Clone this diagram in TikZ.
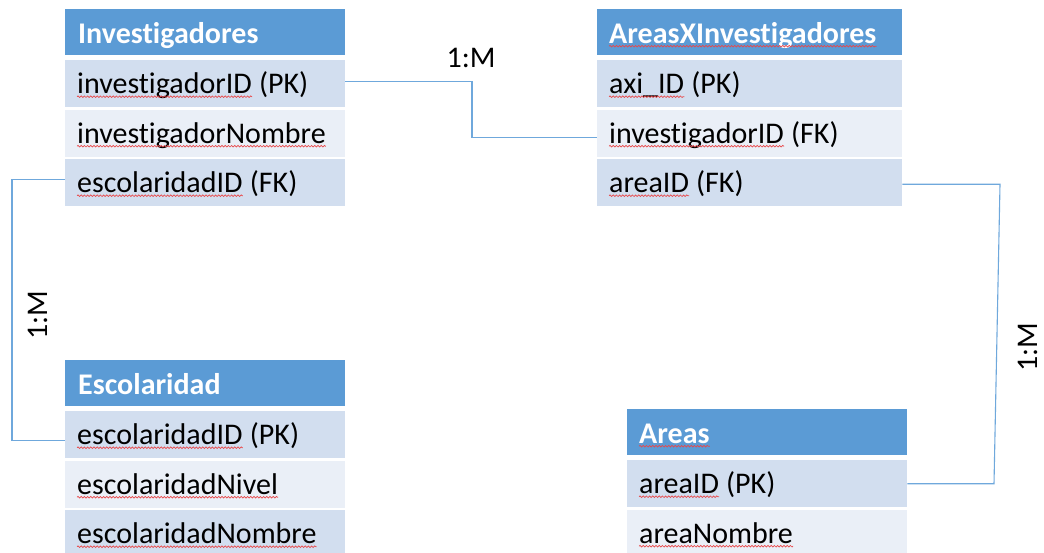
\documentclass[tikz,border=0pt]{standalone}
\usepackage{fontspec}
\setmainfont[Ligatures={NoCommon}]{Carlito}
\usetikzlibrary{decorations.pathmorphing}
\definecolor{hdrblue}{HTML}{5B9BD5}
\definecolor{bandA}{HTML}{D2DEEF}
\definecolor{bandB}{HTML}{EAEFF7}
\definecolor{linkblue}{HTML}{6FA8DC}
\definecolor{spellred}{HTML}{E8484A}
\begin{document}
\begin{tikzpicture}[x=1pt,y=-1pt,
  hdrcell/.style={fill=hdrblue, anchor=north west, inner sep=0, minimum height=46pt},
  cellA/.style={fill=bandA, anchor=north west, inner sep=0, minimum height=47pt},
  cellB/.style={fill=bandB, anchor=north west, inner sep=0, minimum height=47pt},
  hdrtxt/.style={anchor=base west, inner sep=0, text=white, font=\fontsize{30}{36}\selectfont\bfseries},
  celltxt/.style={anchor=base west, inner sep=0, font=\fontsize{30}{36}\selectfont},
  spell/.style={draw=spellred, line width=0.7pt, decorate, decoration={snake, amplitude=0.8pt, segment length=3.2pt}},
  link/.style={draw=linkblue, line width=1.1pt},
  card/.style={inner sep=0, font=\fontsize{30}{36}\selectfont}
]
\useasboundingbox (0,0) rectangle (1044,552);
\clip (0,0) rectangle (1044,552);
\fill[white] (0,0) rectangle (1044,552);

% ---- Investigadores
\node[hdrcell, minimum width=280pt] (invH) at (65,9) {};
\node[cellA, minimum width=280pt] (inv1) at (65,60) {};
\node[cellB, minimum width=280pt] (inv2) at (65,109.5) {};
\node[cellA, minimum width=280pt] (inv3) at (65,159) {};
\node[hdrtxt] (invHt) at ([xshift=13pt,yshift=-11pt]invH.west) {Investigadores};
\node[celltxt] (inv1t) at ([xshift=12pt,yshift=-10pt]inv1.west) {investigadorID};
\node[celltxt] (inv1s) at (inv1t.base east) {\ (PK)};
\node[celltxt] (inv2t) at ([xshift=12pt,yshift=-10pt]inv2.west) {investigadorNombre};
\node[celltxt] (inv3t) at ([xshift=12pt,yshift=-10pt]inv3.west) {escolaridadID};
\node[celltxt] (inv3s) at (inv3t.base east) {\ (FK)};

% ---- AreasXInvestigadores
\node[hdrcell, minimum width=305pt] (axH) at (597,9) {};
\node[cellA, minimum width=305pt] (ax1) at (597,60) {};
\node[cellB, minimum width=305pt] (ax2) at (597,109.5) {};
\node[cellA, minimum width=305pt] (ax3) at (597,159) {};
\node[hdrtxt] (axHt) at ([xshift=12pt,yshift=-11pt]axH.west) {AreasXInvestigadores};
\node[celltxt] (ax1t) at ([xshift=12pt,yshift=-10pt]ax1.west) {axi\_ID};
\node[celltxt] (ax1s) at (ax1t.base east) {\ (PK)};
\node[celltxt] (ax2t) at ([xshift=12pt,yshift=-10pt]ax2.west) {investigadorID};
\node[celltxt] (ax2s) at (ax2t.base east) {\ (FK)};
\node[celltxt] (ax3t) at ([xshift=12pt,yshift=-10pt]ax3.west) {areaID};
\node[celltxt] (ax3s) at (ax3t.base east) {\ (FK)};

% ---- Escolaridad
\node[hdrcell, minimum width=280pt] (escH) at (65,360) {};
\node[cellA, minimum width=280pt] (esc1) at (65,411) {};
\node[cellB, minimum width=280pt] (esc2) at (65,460.5) {};
\node[cellA, minimum width=280pt] (esc3) at (65,510) {};
\node[hdrtxt] (escHt) at ([xshift=13pt,yshift=-11pt]escH.west) {Escolaridad};
\node[celltxt] (esc1t) at ([xshift=12pt,yshift=-10pt]esc1.west) {escolaridadID};
\node[celltxt] (esc1s) at (esc1t.base east) {\ (PK)};
\node[celltxt] (esc2t) at ([xshift=12pt,yshift=-10pt]esc2.west) {escolaridadNivel};
\node[celltxt] (esc3t) at ([xshift=12pt,yshift=-10pt]esc3.west) {escolaridadNombre};

% ---- Areas
\node[hdrcell, minimum width=280pt] (arH) at (627,409) {};
\node[cellA, minimum width=280pt] (ar1) at (627,460) {};
\node[cellB, minimum width=280pt] (ar2) at (627,509.5) {};
\node[hdrtxt] (arHt) at ([xshift=12pt,yshift=-11pt]arH.west) {Areas};
\node[celltxt] (ar1t) at ([xshift=12pt,yshift=-10pt]ar1.west) {areaID};
\node[celltxt] (ar1s) at (ar1t.base east) {\ (PK)};
\node[celltxt] (ar2t) at ([xshift=12pt,yshift=-10pt]ar2.west) {areaNombre};

% ---- spell-check underlines
\foreach \w in {inv1t,inv2t,inv3t,axHt,ax1t,ax2t,ax3t,esc1t,esc2t,esc3t,arHt,ar1t,ar2t}
  \draw[spell] ([yshift=-3pt]\w.base west) -- ([yshift=-3pt]\w.base east);

% ---- relationships
\coordinate (k1) at (472,0);
\coordinate (l1) at (12,0);
\coordinate (r1) at (1000,0);
\coordinate (r2) at (994,0);
\draw[link] ([yshift=2.5pt]inv1.east) -- ([yshift=2.5pt]inv1.east -| k1) |- ([yshift=-4pt]ax2.west);
\draw[link] ([yshift=3pt]inv3.west) -- ([yshift=3pt]inv3.west -| l1) -- ([yshift=-5.5pt]esc1.west -| l1) -- ([yshift=-5.5pt]esc1.west);
\draw[link] ([yshift=-1.5pt]ax3.east) -- ([yshift=-1.5pt]ax3.east -| r1) -- (ar1.east -| r2) -- (ar1.east);

% ---- cardinalities
\node[card, anchor=base] (c1) at (471,67) {1:M};
\node[card, anchor=base, rotate=90] (c2) at (47,315) {1:M};
\node[card, anchor=base, rotate=90] (c3) at (1037,347) {1:M};
\end{tikzpicture}
\end{document}
